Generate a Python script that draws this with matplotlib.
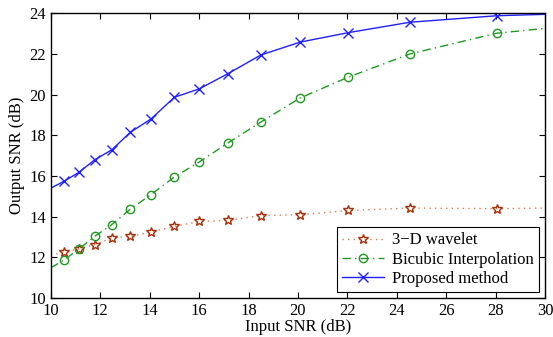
import matplotlib
matplotlib.use("Agg")
import matplotlib.pyplot as plt
import numpy as np

plt.rcParams["font.family"] = "serif"
plt.rcParams["font.serif"] = ["Liberation Serif", "DejaVu Serif"]

# x positions (first and last points are line ends without markers)
snr_in = [10, 10.55, 11.15, 11.78, 12.46, 13.22, 14.05, 15.0, 16.0,
          17.15, 18.5, 20.08, 22.04, 24.53, 28.04, 30]
wavelet = [12.1, 12.26, 12.42, 12.62, 12.95, 13.03, 13.24, 13.52, 13.76,
           13.81, 14.05, 14.09, 14.3, 14.42, 14.39, 14.42]
bicubic = [11.48, 11.88, 12.42, 13.03, 13.6, 14.37, 15.08, 15.95, 16.68,
           17.61, 18.65, 19.83, 20.86, 22.0, 23.02, 23.26]
proposed = [15.4, 15.75, 16.19, 16.8, 17.28, 18.15, 18.8, 19.87, 20.28,
            21.02, 21.95, 22.58, 23.05, 23.56, 23.88, 23.95]

marks = list(range(1, len(snr_in) - 1))

fig = plt.figure(figsize=(5.53, 3.37), dpi=100)
ax = fig.add_axes([0.092, 0.116, 0.8935, 0.8445])

ax.plot(snr_in, wavelet, linestyle=(0, (1, 3)), color="#e07a50", lw=1.0,
        marker="*", markersize=7.5, markevery=marks, markerfacecolor="none",
        markeredgecolor="#a8300a", markeredgewidth=1.0, label="3\u2212D wavelet")
ax.plot(snr_in, bicubic, linestyle=(0, (6, 3, 1, 3)), color="#1f9a1f", lw=1.0,
        marker="o", markersize=6, markevery=marks, markerfacecolor="none",
        markeredgecolor="#1f9a1f", markeredgewidth=1.0, label="Bicubic Interpolation")
ax.plot(snr_in, proposed, linestyle="-", color="#2020ff", lw=1.0,
        marker="x", markersize=6.5, markevery=marks,
        markeredgewidth=1.0, label="Proposed method")

ax.set_xlim(10, 30)
ax.set_ylim(10, 24)
ax.set_xticks(np.arange(10, 31, 2))
ax.set_yticks(np.arange(10, 25, 2))
ax.tick_params(direction="in", top=True, right=True, labelsize=12, length=4, width=0.8)
for s in ax.spines.values():
    s.set_linewidth(1.0)
ax.set_xlabel("Input SNR (dB)", fontsize=12, labelpad=0)
ax.set_ylabel("Output SNR (dB)", fontsize=12, labelpad=3)

leg = ax.legend(loc="lower right", fontsize=12, fancybox=False, framealpha=1,
                edgecolor="black", borderaxespad=0.35, handlelength=2.5,
                labelspacing=0.2, borderpad=0.3, handletextpad=0.5)
leg.get_frame().set_linewidth(0.8)

fig.savefig("out.png", dpi=100, facecolor="white")
